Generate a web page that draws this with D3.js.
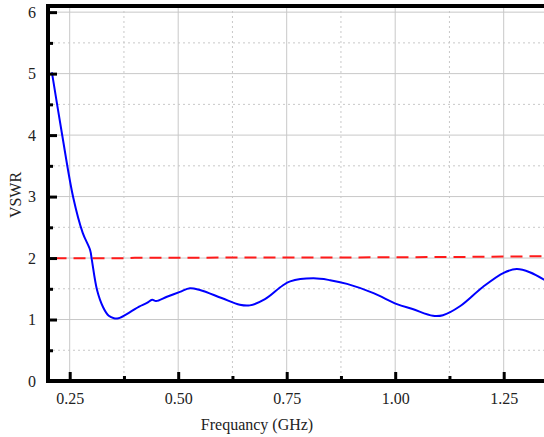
<!DOCTYPE html>
<html lang="en">
<head>
    <meta charset="UTF-8">
    <title>VSWR</title>
    <style>
        body { margin: 0; background: #fff; }
        svg text { font-family: "Times New Roman", "Liberation Serif", "DejaVu Serif", serif !important; }
    </style>
</head>
<body>
    <div class="canvas"></div>
    <script src="https://cdnjs.cloudflare.com/ajax/libs/d3/7.8.2/d3.min.js"></script>
    <script>
        // blue curve: measured VSWR
        const freq = [0.209, 0.232, 0.258, 0.280, 0.297, 0.301, 0.313, 0.327, 0.340, 0.352, 0.362, 0.389, 0.410, 0.428, 0.440, 0.449, 0.474, 0.504, 0.527, 0.550, 0.600, 0.642, 0.665, 0.700, 0.740, 0.758, 0.811, 0.850, 0.889, 0.950, 1.004, 1.040, 1.087, 1.110, 1.150, 1.202, 1.250, 1.280, 1.310, 1.345];
        const vswr = [5.02, 4.03, 2.99, 2.41, 2.13, 1.97, 1.48, 1.20, 1.06, 1.02, 1.02, 1.12, 1.21, 1.27, 1.32, 1.30, 1.37, 1.45, 1.51, 1.48, 1.35, 1.24, 1.23, 1.33, 1.55, 1.62, 1.67, 1.64, 1.58, 1.43, 1.25, 1.17, 1.06, 1.07, 1.22, 1.53, 1.76, 1.82, 1.77, 1.64];

        // red dashed reference line
        const refFreq = [0.215, 0.38, 0.40, 0.90, 1.20, 1.35];
        const refVswr = [1.995, 1.995, 2.005, 2.01, 2.02, 2.03];

        const xMajor = [0.25, 0.50, 0.75, 1.00, 1.25];
        const xMinor = [0.375, 0.625, 0.875, 1.125];
        const yMajor = [0, 1, 2, 3, 4, 5, 6];
        const yMinor = [0.5, 1.5, 2.5, 3.5, 4.5, 5.5];

        const width = 544;
        const height = 437;
        const mLeft = 48, mBottom = 381, mTop = 6;

        const svg = d3.select(".canvas").append("svg")
            .attr("width", width)
            .attr("height", height);

        const x = d3.scaleLinear().domain([0.2, 1.35]).range([mLeft, mLeft + 1.15 * 434]);
        const y = d3.scaleLinear().domain([0, 6.1]).range([mBottom, mTop]);

        svg.append("clipPath").attr("id", "clip")
            .append("rect").attr("x", mLeft).attr("y", mTop).attr("width", width - mLeft).attr("height", mBottom - mTop);

        const grid = svg.append("g").attr("clip-path", "url(#clip)");

        // grid lines
        grid.selectAll(".gx").data(xMajor).enter().append("line")
            .attr("x1", d => x(d)).attr("x2", d => x(d))
            .attr("y1", mTop).attr("y2", mBottom)
            .attr("stroke", "#c8c8c8").attr("stroke-width", 1);
        grid.selectAll(".gxm").data(xMinor).enter().append("line")
            .attr("x1", d => x(d)).attr("x2", d => x(d))
            .attr("y1", mTop).attr("y2", mBottom)
            .attr("stroke", "#c8c8c8").attr("stroke-width", 1).attr("stroke-dasharray", "2,3");
        grid.selectAll(".gy").data(yMajor.slice(1)).enter().append("line")
            .attr("x1", mLeft).attr("x2", width)
            .attr("y1", d => y(d)).attr("y2", d => y(d))
            .attr("stroke", "#c8c8c8").attr("stroke-width", 1);
        grid.selectAll(".gym").data(yMinor).enter().append("line")
            .attr("x1", mLeft).attr("x2", width)
            .attr("y1", d => y(d)).attr("y2", d => y(d))
            .attr("stroke", "#c8c8c8").attr("stroke-width", 1).attr("stroke-dasharray", "2,3");

        // reference line
        const refData = refFreq.map((f, i) => [f, refVswr[i]]);
        grid.append("path")
            .datum(refData)
            .attr("fill", "none")
            .attr("stroke", "#ff1a1a")
            .attr("stroke-width", 2)
            .attr("stroke-dasharray", "12,7")
            .attr("d", d3.line().x(d => x(d[0])).y(d => y(d[1])));

        // measured curve
        const data = freq.map((f, i) => [f, vswr[i]]);
        grid.append("path")
            .datum(data)
            .attr("fill", "none")
            .attr("stroke", "#0000ff")
            .attr("stroke-width", 2)
            .attr("d", d3.line().curve(d3.curveCatmullRom).x(d => x(d[0])).y(d => y(d[1])));

        // axes
        const xAxis = svg.append("g").attr("transform", `translate(0, ${mBottom})`)
            .call(d3.axisBottom(x).tickValues(xMajor).tickSize(-9).tickFormat(d3.format(".2f")).tickPadding(12));
        const xAxisMinor = svg.append("g").attr("transform", `translate(0, ${mBottom})`)
            .call(d3.axisBottom(x).tickValues(xMinor).tickSize(-5).tickFormat(""));
        const yAxis = svg.append("g").attr("transform", `translate(${mLeft}, 0)`)
            .call(d3.axisLeft(y).tickValues(yMajor).tickSize(-9).tickFormat(d3.format("d")).tickPadding(12));
        const yAxisMinor = svg.append("g").attr("transform", `translate(${mLeft}, 0)`)
            .call(d3.axisLeft(y).tickValues(yMinor).tickSize(-5).tickFormat(""));

        [xAxis, xAxisMinor, yAxis, yAxisMinor].forEach(g => {
            g.attr("font-family", null).attr("font-size", 16);
            g.select(".domain").remove();
            g.selectAll(".tick line").attr("stroke", "#000").attr("stroke-width", 3);
            g.selectAll("text").attr("fill", "#222");
        });

        // thick frame lines
        svg.append("line").attr("x1", mLeft).attr("x2", mLeft).attr("y1", mTop - 2).attr("y2", mBottom + 2)
            .attr("stroke", "#000").attr("stroke-width", 4);
        svg.append("line").attr("x1", mLeft - 2).attr("x2", width).attr("y1", mBottom).attr("y2", mBottom)
            .attr("stroke", "#000").attr("stroke-width", 4);
        svg.append("line").attr("x1", mLeft - 2).attr("x2", width).attr("y1", mTop).attr("y2", mTop)
            .attr("stroke", "#000").attr("stroke-width", 4);

        // axis titles
        svg.append("text").attr("x", 257).attr("y", 430)
            .attr("text-anchor", "middle").attr("font-size", "16px").attr("fill", "#222")
            .text("Frequancy (GHz)");
        svg.append("text")
            .attr("transform", "translate(21, 195) rotate(-90)")
            .attr("text-anchor", "middle").attr("font-size", "16px").attr("fill", "#222")
            .text("VSWR");
    </script>
</body>
</html>
